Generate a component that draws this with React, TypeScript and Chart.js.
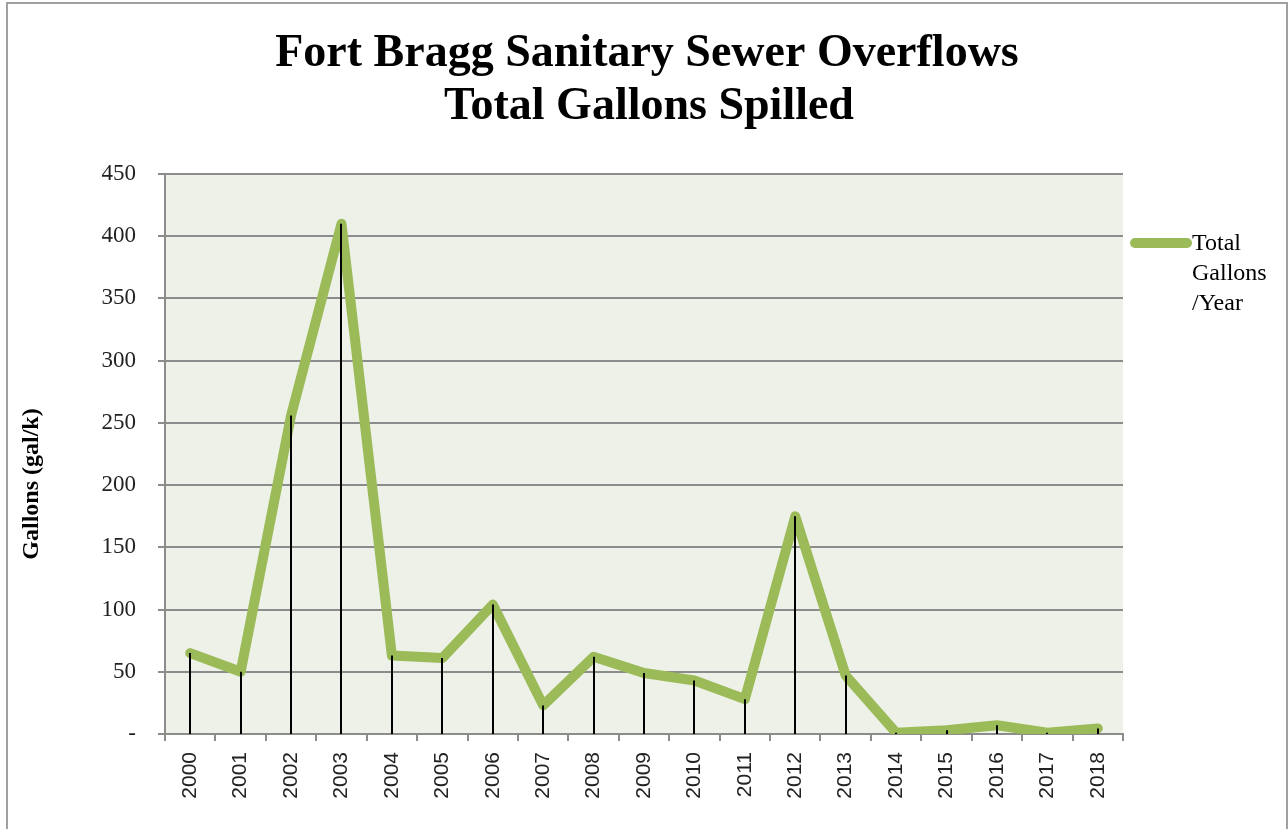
import React, { useEffect, useRef } from "react";
import { Chart, registerables } from "chart.js";

Chart.register(...registerables);

const years = ["2000","2001","2002","2003","2004","2005","2006","2007","2008","2009","2010","2011","2012","2013","2014","2015","2016","2017","2018"];
const gallons = [65, 50, 256, 410, 63, 61, 104, 23, 62, 49, 43, 28, 175, 47, 1, 3, 7, 1, 4.5];
const titleLines = ["Fort Bragg Sanitary Sewer Overflows", "Total Gallons Spilled"];
const yAxisTitle = "Gallons (gal/k)";
const legendLines = ["Total", "Gallons", "/Year"];

const GREEN = "#9BBB59";
const GRID = "#8c8c8c";
const PLOT_BG = "#EEF1E8";

export default function App() {
  const ref = useRef<HTMLCanvasElement>(null);
  useEffect(() => {
    const canvas = ref.current!;
    const decor = {
      id: "decor",
      beforeDraw(chart: any) {
        const ctx = chart.ctx;
        const a = chart.chartArea;
        ctx.save();
        ctx.fillStyle = "#ffffff";
        ctx.fillRect(0, 0, chart.width, chart.height);
        ctx.strokeStyle = "#a0a0a0";
        ctx.lineWidth = 2;
        ctx.strokeRect(7, 3, 1280, 840);
        ctx.fillStyle = PLOT_BG;
        ctx.fillRect(a.left, a.top, a.right - a.left, a.bottom - a.top);
        // title
        ctx.fillStyle = "#000";
        ctx.textAlign = "center";
        ctx.textBaseline = "alphabetic";
        ctx.font = "bold 46px 'Liberation Serif'";
        ctx.fillText(titleLines[0], 647, 66);
        ctx.fillText(titleLines[1], 649, 119);
        // y title
        ctx.translate(32, 484);
        ctx.rotate(-Math.PI / 2);
        ctx.font = "bold 24px 'Liberation Serif'";
        ctx.textBaseline = "middle";
        ctx.fillText(yAxisTitle, 0, 0);
        ctx.restore();
      },
      afterDatasetsDraw(chart: any) {
        const ctx = chart.ctx;
        const meta = chart.getDatasetMeta(0);
        const bottom = chart.chartArea.bottom;
        ctx.save();
        ctx.strokeStyle = "#000";
        ctx.lineWidth = 2;
        meta.data.forEach((pt: any) => {
          ctx.beginPath();
          ctx.moveTo(Math.round(pt.x), pt.y);
          ctx.lineTo(Math.round(pt.x), bottom);
          ctx.stroke();
        });
        ctx.restore();
      },
      afterDraw(chart: any) {
        const ctx = chart.ctx;
        ctx.save();
        ctx.strokeStyle = GREEN;
        ctx.lineWidth = 10;
        ctx.lineCap = "round";
        ctx.beginPath();
        ctx.moveTo(1135, 243);
        ctx.lineTo(1187, 243);
        ctx.stroke();
        ctx.fillStyle = "#000";
        ctx.font = "24px 'Liberation Serif'";
        ctx.textAlign = "left";
        ctx.textBaseline = "alphabetic";
        legendLines.forEach((t, i) => ctx.fillText(t, 1192, 250 + i * 30));
        ctx.restore();
      },
    };
    const chart = new Chart(canvas, {
      type: "line",
      data: {
        labels: years,
        datasets: [
          {
            label: "Total Gallons /Year",
            data: gallons,
            borderColor: GREEN,
            borderWidth: 10,
            pointRadius: 0,
            borderCapStyle: "round",
            borderJoinStyle: "round",
            tension: 0,
            fill: false,
          },
        ],
      },
      options: {
        responsive: false,
        animation: false,
        layout: { padding: { left: 0, top: 174, right: 165, bottom: 0 } },
        plugins: { legend: { display: false }, title: { display: false }, tooltip: { enabled: false } },
        scales: {
          x: {
            type: "category",
            offset: true,
            grid: { offset: true, drawOnChartArea: false, tickLength: 7, color: GRID, lineWidth: 2 },
            border: { color: GRID, width: 2 },
            ticks: {
              minRotation: 90,
              maxRotation: 90,
              autoSkip: false,
              padding: 11,
              color: "#222",
              font: { family: "'Liberation Sans'", size: 21 },
            },
            afterFit: (axis: any) => { axis.height = 95; },
          },
          y: {
            min: 0,
            max: 450,
            grid: { color: GRID, lineWidth: 2, tickLength: 7 },
            border: { color: GRID, width: 2 },
            ticks: {
              stepSize: 50,
              padding: 22,
              color: "#222",
              font: { family: "'Liberation Serif'", size: 23 },
              callback: (v: any) => (Number(v) === 0 ? "-" : String(v)),
            },
            afterFit: (axis: any) => { axis.width = 165; },
          },
        },
      },
      plugins: [decor],
    } as any);
    return () => chart.destroy();
  }, []);
  return (
    <div style={{ position: "absolute", left: 0, top: 0, width: 1288, height: 829 }}>
      <canvas ref={ref} width={1288} height={829} />
    </div>
  );
}
